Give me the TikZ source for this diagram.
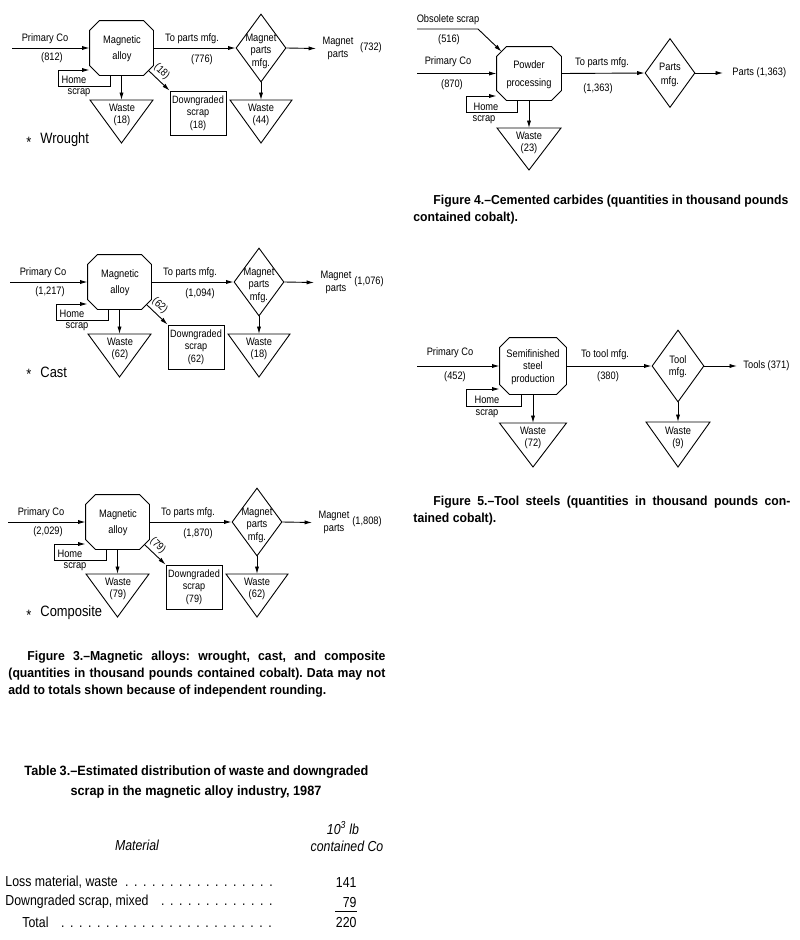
\documentclass[tikz,border=0pt]{standalone}
\usepackage{fontspec}
\setmainfont{Liberation Sans}
\newfontfamily\dfont{Liberation Sans}[FakeStretch=0.86]
\newfontfamily\cfont{Liberation Sans}[FakeStretch=0.94]
\newfontfamily\tfont{Liberation Sans}[FakeStretch=0.85]
\usetikzlibrary{arrows.meta,shapes.geometric}
\tikzset{
 arr/.style={-{Latex[length=7.5pt,width=4.2pt]}},
 dtext/.style={font=\dfont\fontsize{10.8}{12.5}\selectfont, inner sep=0pt, align=center},
 framebox/.style={draw=none, inner sep=0pt},
 diabox/.style={diamond, draw, inner sep=0pt},
 dgbox/.style={draw, inner sep=0pt, align=center, font=\dfont\fontsize{10.6}{12.5}\selectfont},
 cattxt/.style={font=\dfont\fontsize{15}{18}\selectfont, inner sep=0pt},
 captxt/.style={font=\cfont\bfseries\fontsize{13}{15}\selectfont\frenchspacing, inner sep=0pt, anchor=west},
 titletxt/.style={font=\cfont\bfseries\fontsize{13.5}{15}\selectfont\frenchspacing, inner sep=0pt, anchor=west},
 tabtxt/.style={font=\tfont\fontsize{14.5}{17}\selectfont, inner sep=0pt},
 tabital/.style={font=\tfont\itshape\fontsize{14.5}{17}\selectfont, inner sep=0pt},
}
\newcommand\octa[2]{\draw ([xshift=#2]#1.north west) -- ([xshift=-#2]#1.north east) -- ([yshift=-#2]#1.north east) -- ([yshift=#2]#1.south east) -- ([xshift=-#2]#1.south east) -- ([xshift=#2]#1.south west) -- ([yshift=#2]#1.south west) -- ([yshift=-#2]#1.north west) -- cycle;}
\newcommand\dotfil{\leaders\hbox to 9pt{\hss.\hss}\hfill}
\newcommand\magdiag[9]{%
\begin{scope}[shift={(#2,#3)}]
\node[framebox, minimum width=63pt, minimum height=54pt] (#1oct) at (121.5,48) {};
\octa{#1oct}{10pt}
\node[dtext] at (122,48.5) {Magnetic\\[4pt]alloy};
\coordinate (#1in) at (12,48);
\draw[arr] (#1in) -- (#1oct.west);
\node[dtext] at (45,39) {Primary Co};
\node[dtext] at (52,58) {(#4)};
\draw[arr] ([xshift=-11.5pt]#1oct.south) |- ++(-52,11) |- ([yshift=-22pt]#1oct.west);
\node[dtext] at (74,79.5) {Home};
\node[dtext] at (79,93) {scrap};
\node[diabox, minimum width=50pt, minimum height=68pt] (#1dia) at (261,48) {};
\node[dtext] at (261,51) {Magnet\\parts\\mfg.};
\draw[arr] (#1oct.east) -- (#1dia.west);
\node[dtext] at (192,39) {To parts mfg.};
\node[dtext] at (202,60) {(#5)};
\node[dtext] (#1out) at (338,48.5) {Magnet\\parts};
\draw[arr] (#1dia.east) -- ([xshift=-6pt]#1out.west);
\node[dtext] at (371,48) {(#9)};
\coordinate (#1wa) at (121.5,100);
\draw[arr] (#1oct.south) -- (#1wa);
\draw (#1wa) ++(-31.5,0) -- ++(63,0) -- ++(-31.5,43) -- cycle;
\node[dtext] at (122,115) {Waste\\(#7)};
\coordinate (#1wb) at (261,100);
\draw[arr] (#1dia.south) -- (#1wb);
\draw (#1wb) ++(-31,0) -- ++(62,0) -- ++(-31,43) -- cycle;
\node[dtext] at (261,115) {Waste\\(#8)};
\node[dgbox, minimum width=56pt, minimum height=44pt] (#1dg) at (198,113) {Downgraded\\scrap\\(#6)};
\draw[arr] ([xshift=-5pt,yshift=5pt]#1oct.south east) -- (#1dg.north west) node[dtext, pos=0.36, sloped, above=3pt] {(#6)};
\end{scope}}
\begin{document}
\begin{tikzpicture}[x=1pt,y=-1pt,line width=0.9pt]
\fill[white] (0,0) rectangle (800,940);
\useasboundingbox (0,0) rectangle (800,940);
% Figure 3 diagrams
\magdiag{w}{0}{0}{812}{776}{18}{18}{44}{732}
\magdiag{c}{-2}{234}{1,217}{1,094}{62}{62}{18}{1,076}
\magdiag{m}{-4}{474}{2,029}{1,870}{79}{79}{62}{1,808}
\node[cattxt] (wst) at (29,142) {*};
\node[cattxt, anchor=west] (wlab) at (40,140) {Wrought};
\node[cattxt] (cst) at (29,374) {*};
\node[cattxt, anchor=west] (clab) at (40,372) {Cast};
\node[cattxt] (mst) at (29,615) {*};
\node[cattxt, anchor=west] (mlab) at (40,613) {Composite};
% Figure 3 caption
\node[captxt] (f3a) at (27,657) {\makebox[358pt][s]{Figure 3.–Magnetic alloys: wrought, cast, and composite}};
\node[captxt] (f3b) at (8,674) {\makebox[377pt][s]{(quantities in thousand pounds contained cobalt). Data may not}};
\node[captxt] (f3c) at (8,691) {add to totals shown because of independent rounding.};
% Figure 4
\coordinate (kobs) at (417,29);
\coordinate (kbend) at (478,29);
\node[framebox, minimum width=64pt, minimum height=53pt] (koct) at (529,73.5) {};
\octa{koct}{10pt}
\node[dtext] at (529,74.5) {Powder\\[6pt]processing};
\draw[arr] (kobs) -- (kbend) -- ([xshift=5pt,yshift=-5pt]koct.north west);
\node[dtext] at (448,20) {Obsolete scrap};
\node[dtext] at (449,40) {(516)};
\coordinate (kin) at (417,73.5);
\draw[arr] (kin) -- (koct.west);
\node[dtext] at (448,62) {Primary Co};
\node[dtext] at (452,85) {(870)};
\draw[arr] ([xshift=-12pt]koct.south) |- ++(-51,12) |- ([yshift=-22.5pt]koct.west);
\node[dtext] at (486,107) {Home};
\node[dtext] at (484,120) {scrap};
\coordinate (kwa) at (529,128);
\draw[arr] (koct.south) -- (kwa);
\draw (kwa) ++(-32,0) -- ++(64,0) -- ++(-32,42) -- cycle;
\node[dtext] at (529,143) {Waste\\(23)};
\node[diabox, minimum width=50pt, minimum height=69pt] (kdia) at (670,73) {};
\node[dtext] at (670,75) {Parts\\[1pt]mfg.};
\draw[arr] (koct.east) -- (kdia.west);
\node[dtext] at (602,63) {To parts mfg.};
\node[dtext] at (598,89) {(1,363)};
\node[dtext, anchor=west] (kout) at (732,73) {Parts (1,363)};
\draw[arr] (kdia.east) -- ([xshift=-9pt]kout.west);
\node[captxt] (f4a) at (433,201) {\makebox[355pt][s]{Figure 4.–Cemented carbides (quantities in thousand pounds}};
\node[captxt] (f4b) at (413,218) {contained cobalt).};
% Figure 5
\node[framebox, minimum width=66pt, minimum height=56pt] (toct) at (533,366) {};
\octa{toct}{10pt}
\node[dtext] at (533,367) {Semifinished\\steel\\production};
\coordinate (tin) at (417,366);
\draw[arr] (tin) -- (toct.west);
\node[dtext] at (450,353) {Primary Co};
\node[dtext] at (455,377) {(452)};
\draw[arr] ([xshift=-12pt]toct.south) |- ++(-55,12) |- ([yshift=-23pt]toct.west);
\node[dtext] at (487,400) {Home};
\node[dtext] at (487,414) {scrap};
\coordinate (twa) at (533,423);
\draw[arr] (toct.south) -- (twa);
\draw (twa) ++(-33.5,0) -- ++(67,0) -- ++(-33.5,44) -- cycle;
\node[dtext] at (533,438) {Waste\\(72)};
\node[diabox, minimum width=52pt, minimum height=72pt] (tdia) at (678,366) {};
\node[dtext] at (678,366.5) {Tool\\mfg.};
\draw[arr] (toct.east) -- (tdia.west);
\node[dtext] at (605,355) {To tool mfg.};
\node[dtext] at (608,377) {(380)};
\node[dtext, anchor=west] (tout) at (743,366) {Tools (371)};
\draw[arr] (tdia.east) -- ([xshift=-6pt]tout.west);
\coordinate (twb) at (678,422);
\draw[arr] (tdia.south) -- (twb);
\draw (twb) ++(-32,0) -- ++(64,0) -- ++(-32,45) -- cycle;
\node[dtext] at (678,438) {Waste\\(9)};
\node[captxt] (f5a) at (433,502) {\makebox[357pt][s]{Figure 5.–Tool steels (quantities in thousand pounds con-}};
\node[captxt] (f5b) at (413,519) {tained cobalt).};
% Table 3
\node[titletxt] (t3a) at (24,772) {\makebox[344pt][s]{Table 3.–Estimated distribution of waste and downgraded}};
\node[titletxt, anchor=center] (t3b) at (196,792) {scrap in the magnetic alloy industry, 1987};
\node[tabital] (hmat) at (137,845) {Material};
\node[tabital] (hunit) at (343,828) {10\textsuperscript{3} lb};
\node[tabital] (hco) at (347,846) {contained Co};
\node[tabtxt, anchor=west] (r1) at (5,882) {\makebox[273pt][l]{Loss material, waste \dotfil}};
\node[tabtxt, anchor=west] (r2) at (5,902) {\makebox[273pt][l]{Downgraded scrap, mixed \dotfil}};
\node[tabtxt, anchor=west] (r3) at (22,922) {\makebox[256pt][l]{Total \dotfil}};
\node[tabtxt, anchor=east] (v1) at (357,882) {141};
\node[tabtxt, anchor=east] (v2) at (357,902) {79};
\node[tabtxt, anchor=east] (v3) at (357,922) {220};
\draw[line width=0.8pt] (335,911.5) -- (357,911.5);
\end{tikzpicture}
\end{document}
